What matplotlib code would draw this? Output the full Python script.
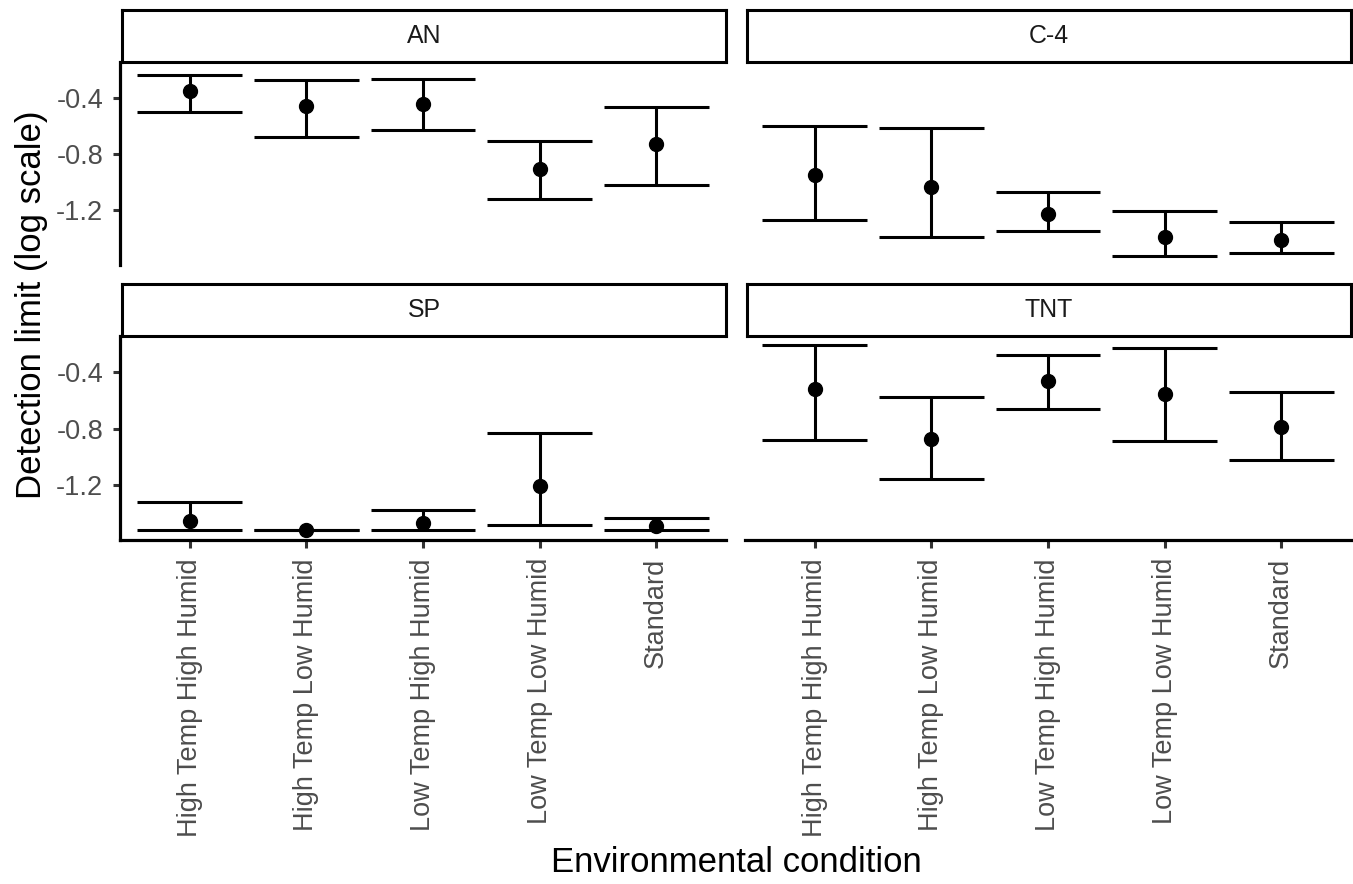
import matplotlib
matplotlib.use("Agg")
import matplotlib.pyplot as plt
import numpy as np

plt.rcParams['font.family'] = ['Liberation Sans', 'DejaVu Sans']
plt.rcParams['axes.unicode_minus'] = False

conditions = ["High Temp High Humid", "High Temp Low Humid", "Low Temp High Humid",
              "Low Temp Low Humid", "Standard"]
panels = ["AN", "C-4", "SP", "TNT"]

an_mean = [-0.351, -0.456, -0.447, -0.904, -0.729]
an_low = [-0.504, -0.680, -0.626, -1.122, -1.021]
an_high = [-0.240, -0.275, -0.268, -0.708, -0.468]

c4_mean = [-0.951, -1.033, -1.228, -1.386, -1.412]
c4_low = [-1.266, -1.386, -1.346, -1.522, -1.504]
c4_high = [-0.600, -0.616, -1.068, -1.205, -1.285]

sp_mean = [-1.454, -1.518, -1.468, -1.209, -1.492]
sp_low = [-1.518, -1.520, -1.518, -1.482, -1.518]
sp_high = [-1.322, -1.515, -1.374, -0.835, -1.435]

tnt_mean = [-0.522, -0.873, -0.464, -0.558, -0.786]
tnt_low = [-0.880, -1.155, -0.664, -0.887, -1.021]
tnt_high = [-0.212, -0.576, -0.280, -0.233, -0.541]

y_ticks = [-0.4, -0.8, -1.2]
y_tick_labels = ["-0.4", "-0.8", "-1.2"]

data = {
    "AN": (an_mean, an_low, an_high),
    "C-4": (c4_mean, c4_low, c4_high),
    "SP": (sp_mean, sp_low, sp_high),
    "TNT": (tnt_mean, tnt_low, tnt_high),
}

W, H = 1353, 884
fig = plt.figure(figsize=(W / 100, H / 100), dpi=100)

all_low = min(min(v[1]) for v in data.values())
all_high = max(max(v[2]) for v in data.values())
rng = all_high - all_low
ylim = (all_low - 0.05 * rng, all_high + 0.05 * rng)

def px_axes(x0, y0, w, h):
    return fig.add_axes([x0 / W, 1 - (y0 + h) / H, w / W, h / H])

col_x = [120, 745]
panel_w = 606
row_y = [62, 336]
panel_h = 203
strip_h = 52

tick_fs = 19.5
title_fs = 25
lw = 2.2

for i, name in enumerate(panels):
    r, c = divmod(i, 2)
    ax = px_axes(col_x[c], row_y[r], panel_w, panel_h + (1 if r == 1 else 0))
    mean, low, high = data[name]
    x = np.arange(1, len(conditions) + 1)
    ax.vlines(x, low, high, color='black', lw=lw)
    ax.hlines(low, x - 0.45, x + 0.45, color='black', lw=lw)
    ax.hlines(high, x - 0.45, x + 0.45, color='black', lw=lw)
    ax.plot(x, mean, 'o', color='black', ms=10, zorder=3)
    ax.set_xlim(0.4, len(conditions) + 0.6)
    ax.set_ylim(*ylim)
    for s in ['top', 'right']:
        ax.spines[s].set_visible(False)
    ax.spines['left'].set_visible(c == 0)
    ax.spines['bottom'].set_visible(r == 1)
    for s in ['left', 'bottom']:
        ax.spines[s].set_linewidth(2.3)
        ax.spines[s].set_color('black')
    ax.set_xticks(x)
    ax.set_yticks(y_ticks)
    if r == 1:
        ax.set_xticklabels(conditions, rotation=90, fontsize=tick_fs, color='#4D4D4D', va='top', ha='center')
        ax.tick_params(axis='x', length=5.5, width=2.2, color='#333333', pad=7.5)
    else:
        ax.tick_params(axis='x', bottom=False, labelbottom=False)
    if c == 0:
        ax.set_yticklabels(y_tick_labels, fontsize=tick_fs, color='#4D4D4D')
        ax.tick_params(axis='y', length=5, width=2.2, color='#333333', pad=7)
    else:
        ax.tick_params(axis='y', left=False, labelleft=False)
    ax.patch.set_alpha(0)

    # strip
    sx = px_axes(col_x[c] + 2, row_y[r] - strip_h, panel_w - 2, strip_h)
    sx.set_xticks([])
    sx.set_yticks([])
    for s in sx.spines.values():
        s.set_linewidth(2.2)
        s.set_color('black')
    sx.text(0.5, 0.5, name, ha='center', va='center', fontsize=tick_fs * 0.92,
            color='#1A1A1A', transform=sx.transAxes)

fig.text(32 / W, 1 - 305 / H, "Detection limit (log scale)", rotation=90,
         ha='center', va='center', fontsize=title_fs, color='black')
fig.text(736 / W, 1 - 862 / H, "Environmental condition", ha='center', va='center',
         fontsize=title_fs, color='black')

fig.savefig("out.png", dpi=100)
